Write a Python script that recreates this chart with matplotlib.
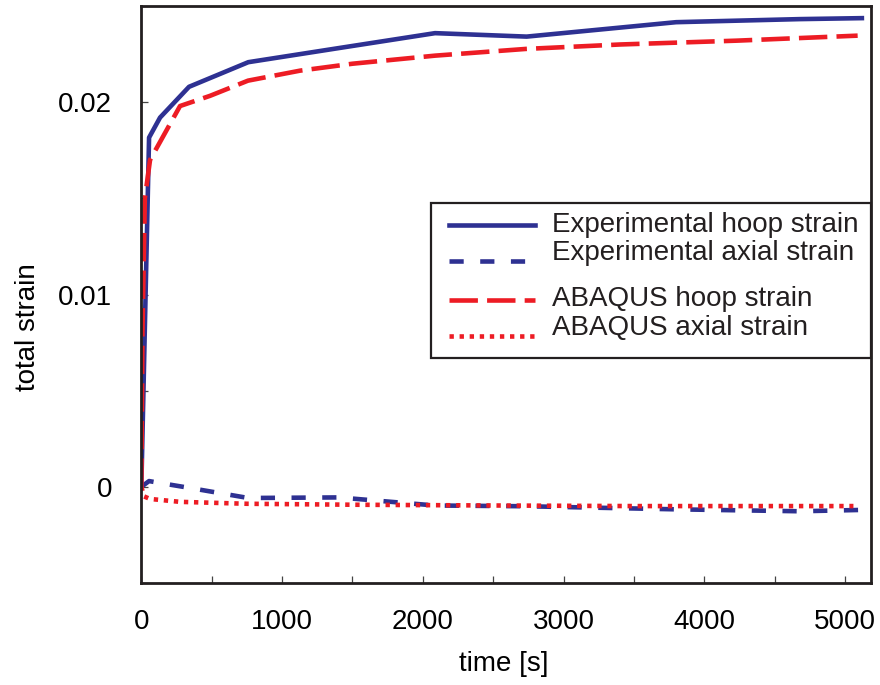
import matplotlib
matplotlib.use("Agg")
import matplotlib.pyplot as plt
from matplotlib.patches import Rectangle
from matplotlib.ticker import MultipleLocator

plt.rcParams['font.family'] = ['Liberation Sans', 'DejaVu Sans']

# measured strains
t_exp = [0, 55, 133, 339, 760, 1400, 2087, 2738, 3800, 4680, 5120]
exp_hoop = [0, 0.01816, 0.0192, 0.0208, 0.02208, 0.02281, 0.02359, 0.02341, 0.02416, 0.02432, 0.02437]
exp_axial = [0, 0.0003, 0.0002, -0.00005, -0.00058, -0.00055, -0.00097, -0.00101, -0.00117, -0.00127, -0.00120]

# ABAQUS results
t_fe_hoop = [0, 8, 25, 62, 275, 488, 758, 1128, 1500, 2087, 2733, 3401, 4233, 5090]
fe_hoop = [0, 0.008, 0.0150, 0.0170, 0.0198, 0.02033, 0.02112, 0.02164, 0.0220, 0.02242, 0.02277, 0.0230, 0.0232, 0.02346]
t_fe_axial = [0, 20, 62, 275, 750, 1500, 2500, 3500, 4500, 5060]
fe_axial = [0, -0.0005, -0.00063, -0.00078, -0.00088, -0.00093, -0.00097, -0.0010, -0.0010, -0.0010]

labels = ['Experimental hoop strain', 'Experimental axial strain',
          'ABAQUS hoop strain', 'ABAQUS axial strain']

blue = '#2e3192'
red = '#ed1c24'
lw = 3.3
fs = 20
styles = [
    dict(color=blue, lw=lw, ls='-'),
    dict(color=blue, lw=lw, dashes=(3.1, 3.6), dash_capstyle='butt'),
    dict(color=red, lw=lw, dashes=(6.2, 2.0), dash_capstyle='butt'),
    dict(color=red, lw=lw, dashes=(0.95, 1.25), dash_capstyle='butt'),
]

fig = plt.figure(figsize=(8.8, 6.85), dpi=100)
ax = fig.add_axes([0.1606, 0.1489, 0.8292, 0.8423])

ax.plot(t_exp, exp_hoop, **styles[0])
ax.plot(t_exp, exp_axial, **styles[1])
ax.plot(t_fe_hoop, fe_hoop, **styles[2])
ax.plot(t_fe_axial, fe_axial, **styles[3])

ax.set_xlim(0, 5185)
ax.set_ylim(-0.005, 0.025)
ax.xaxis.set_major_locator(MultipleLocator(1000))
ax.xaxis.set_minor_locator(MultipleLocator(500))
ax.set_yticks([0, 0.01, 0.02])
ax.set_yticklabels(['0', '0.01', '0.02'])
ax.yaxis.set_minor_locator(MultipleLocator(0.005))
ax.tick_params(which='both', direction='in', length=5, width=0.9,
               color='#444444', top=False, right=False)
ax.tick_params(axis='x', which='major', pad=19, labelsize=fs)
ax.tick_params(axis='y', which='major', pad=21, labelsize=fs)
for s in ax.spines.values():
    s.set_linewidth(2.0)
    s.set_color('#231f20')

ax.set_xlabel('time [s]', fontsize=fs)
ax.set_ylabel('total strain', fontsize=fs)
ax.xaxis.set_label_coords(0.496, -0.118)
ax.yaxis.set_label_coords(-0.1375, 0.4437)

# legend box with a wider gap between the two groups
ax.add_patch(Rectangle((0.397, 0.390), 0.603, 0.268, transform=ax.transAxes,
                       fill=True, facecolor='white', edgecolor='#231f20',
                       lw=1.6, zorder=5, clip_on=False))
text_y = [0.6205, 0.572, 0.492, 0.442]
line_y = [0.6205, 0.558, 0.4905, 0.428]
for st, lab, ty, ly in zip(styles, labels, text_y, line_y):
    ax.plot([0.4217, 0.5395], [ly, ly], transform=ax.transAxes,
            zorder=6, clip_on=False, **st)
    ax.text(0.5624, ty, lab, transform=ax.transAxes, fontsize=fs,
            va='center', ha='left', color='#231f20', zorder=7)

fig.savefig('out.png', dpi=100)
